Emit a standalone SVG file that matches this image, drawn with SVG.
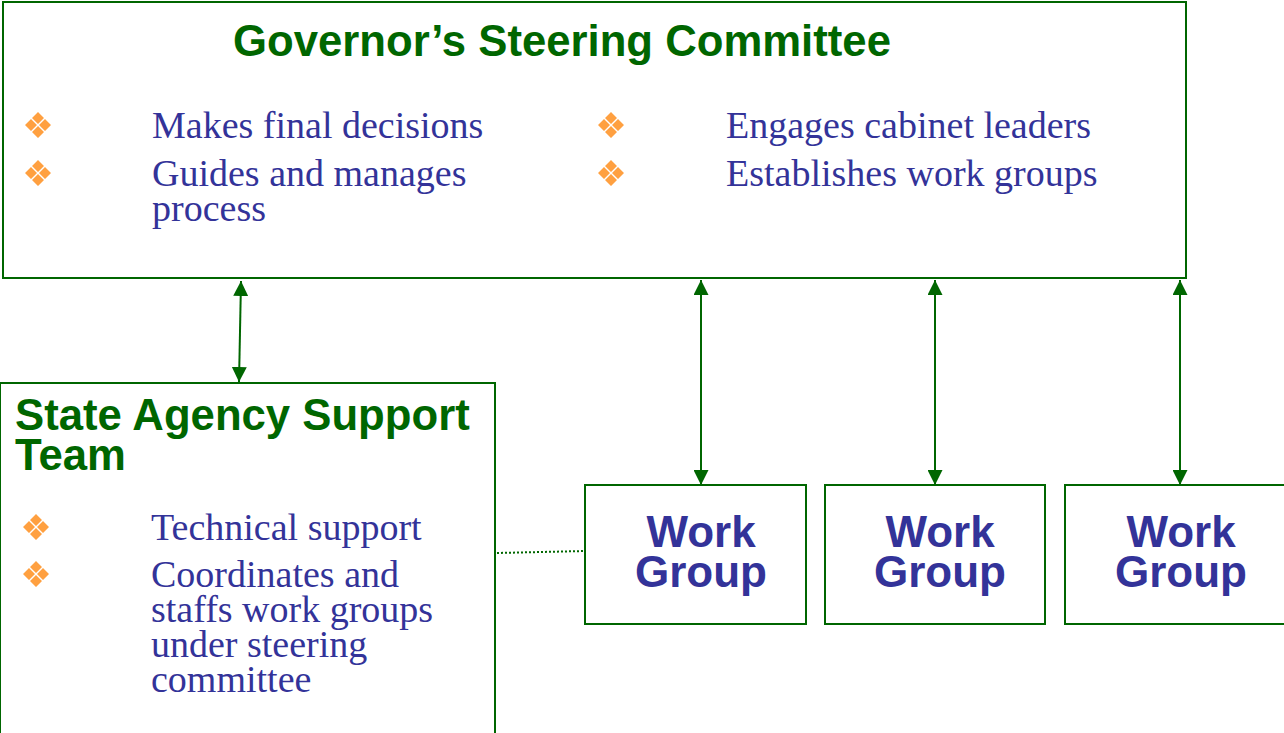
<svg xmlns="http://www.w3.org/2000/svg" width="1284" height="733" viewBox="0 0 1284 733">
<defs>
<style>
.box{fill:#fff;stroke:#006600;stroke-width:2}
.title{font-family:"Liberation Sans",Arial,sans-serif;font-weight:bold;fill:#006600;font-size:43.7px}
.wg{font-family:"Liberation Sans",Arial,sans-serif;font-weight:bold;fill:#333399;font-size:44px;text-anchor:middle}
.item{font-family:"Liberation Serif","Times New Roman",serif;fill:#333399;font-size:38px}
.conn{stroke:#006600;stroke-width:2;fill:none}
.dot{stroke:#006600;stroke-width:2;stroke-dasharray:2 2;fill:none}
.bul{fill:#FFA040}
</style>
<marker id="ah" viewBox="0 0 10 10" refX="10" refY="5" markerWidth="15" markerHeight="15" markerUnits="userSpaceOnUse" orient="auto-start-reverse">
<path d="M0,0 L10,5 L0,10 Z" fill="#006600"/>
</marker>
<g id="b">
<path class="bul" d="M0,-13 L6,-7 L0,-1 L-6,-7 Z M0,1 L6,7 L0,13 L-6,7 Z M-7,-6 L-1,0 L-7,6 L-13,0 Z M7,-6 L13,0 L7,6 L1,0 Z"/>
</g>
</defs>
<rect width="1284" height="733" fill="#fff"/>
<g id="connectors">
<line class="conn" x1="241" y1="281" x2="239" y2="382" marker-start="url(#ah)" marker-end="url(#ah)"/>
<line class="conn" x1="701" y1="280" x2="701" y2="485" marker-start="url(#ah)" marker-end="url(#ah)"/>
<line class="conn" x1="935" y1="280" x2="935" y2="485" marker-start="url(#ah)" marker-end="url(#ah)"/>
<line class="conn" x1="1180" y1="280" x2="1180" y2="485" marker-start="url(#ah)" marker-end="url(#ah)"/>
<line class="dot" x1="497" y1="553" x2="585" y2="551"/>
</g>
<g id="steering">
<rect class="box" x="3" y="2" width="1183" height="276"/>
<text class="title" x="562" y="56" text-anchor="middle">Governor’s Steering Committee</text>
<use href="#b" x="38" y="125"/>
<use href="#b" x="38" y="173"/>
<use href="#b" x="611" y="125"/>
<use href="#b" x="611" y="173"/>
<text class="item" x="152" y="138">Makes final decisions</text>
<text class="item" x="152" y="186">Guides and manages</text>
<text class="item" x="152" y="221">process</text>
<text class="item" x="726" y="138">Engages cabinet leaders</text>
<text class="item" x="726" y="186">Establishes work groups</text>
</g>
<g id="support">
<rect class="box" x="0" y="383" width="495" height="352"/>
<text class="title" x="15" y="430">State Agency Support</text>
<text class="title" x="15" y="470">Team</text>
<use href="#b" x="36" y="527"/>
<use href="#b" x="36" y="574"/>
<text class="item" x="151" y="540">Technical support</text>
<text class="item" x="151" y="587">Coordinates and</text>
<text class="item" x="151" y="622">staffs work groups</text>
<text class="item" x="151" y="657">under steering</text>
<text class="item" x="151" y="692">committee</text>
</g>
<g id="wg1">
<rect class="box" x="585" y="485" width="221" height="139"/>
<text class="wg" x="701" y="547">Work</text>
<text class="wg" x="701" y="587">Group</text>
</g>
<g id="wg2">
<rect class="box" x="825" y="485" width="220" height="139"/>
<text class="wg" x="940" y="547">Work</text>
<text class="wg" x="940" y="587">Group</text>
</g>
<g id="wg3">
<rect class="box" x="1065" y="485" width="221" height="139"/>
<text class="wg" x="1181" y="547">Work</text>
<text class="wg" x="1181" y="587">Group</text>
</g>
</svg>
